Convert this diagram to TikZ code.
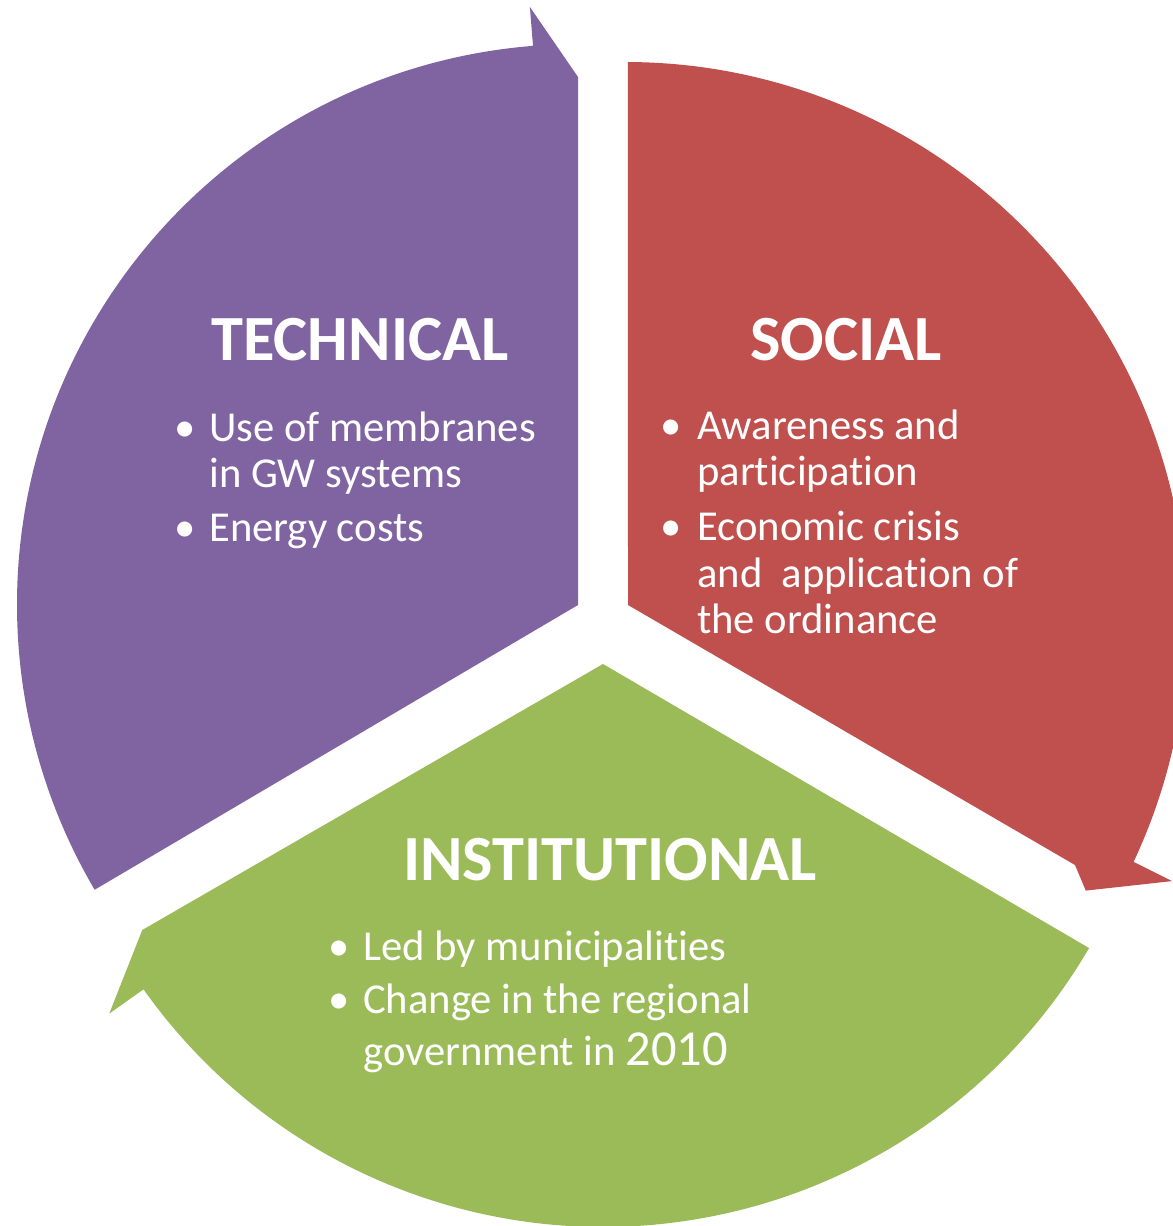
\documentclass[tikz,border=0pt]{standalone}
\usepackage{fontspec}
\setmainfont{Carlito}[Ligatures=NoCommon]
\usetikzlibrary{calc}
\definecolor{techpurple}{HTML}{8064A2}
\definecolor{socialred}{HTML}{C0504D}
\definecolor{instgreen}{HTML}{9BBB59}
\newcommand\headfont{\fontsize{55pt}{60pt}\selectfont\bfseries}
\newcommand\itemfont{\fontsize{36.4pt}{40pt}\selectfont}
\newcommand\bigyear{\fontsize{43pt}{46pt}\selectfont}
\begin{document}
\begin{tikzpicture}[x=0.3mm,y=0.3mm,
  head/.style={text=white, font=\headfont, inner sep=0pt, anchor=base},
  itemline/.style={text=white, font=\itemfont, inner sep=0pt, anchor=base west},
  bulletdot/.style={text=white, font=\itemfont, inner sep=0pt, anchor=base},
]
\clip (0,0) rectangle (1173,-1226);

% centres of the three exploded segments
\coordinate (pc) at (578,-605);
\coordinate (rc) at (626,-623);
\coordinate (ra) at (628,-605);
\coordinate (gc) at (603,-664);

% technical segment, arrow at its top end
\fill[techpurple] (pc) -- ($(pc)+(90:528)$) -- ($(pc)+(94.6:600)$) -- ($(pc)+(94.6:561)$)
  arc[start angle=94.6, end angle=210.5, radius=561] -- cycle;

% social segment, arrow at its lower end
\fill[socialred] (ra) -- ($(rc)+(89.8:561)$)
  arc[start angle=89.8, end angle=-25.2, radius=561]
  -- ($(rc)+(-25.3:604)$) -- ($(rc)+(-30.2:532)$) -- (1075,-865) -- cycle;

% institutional segment, arrow at its left end
\fill[instgreen] (gc) -- ($(gc)+(210:532)$) -- ($(gc)+(215.3:605)$) -- ($(gc)+(215.3:563)$)
  arc[start angle=215.3, end angle=329.7, radius=563] -- cycle;

% headings
\node[head] (techhead) at (360,-360) {TECHNICAL};
\node[head] (sochead) at (846,-360) {SOCIAL};
\node[head] (insthead) at (610,-880) {INSTITUTIONAL};

% technical items
\node[bulletdot] (tb1) at (185,-441) {•};
\node[itemline] (t1a) at (209,-441) {Use of membranes};
\node[itemline] (t1b) at (209,-487) {in GW systems};
\node[bulletdot] (tb2) at (185,-541) {•};
\node[itemline] (t2a) at (209,-541) {Energy costs};

% social items
\node[bulletdot] (sb1) at (671,-439) {•};
\node[itemline] (s1a) at (697,-439) {Awareness and};
\node[itemline] (s1b) at (697,-485) {participation};
\node[bulletdot] (sb2) at (671,-540) {•};
\node[itemline] (s2a) at (697,-540) {Economic crisis};
\node[itemline] (s2b) at (697,-587) {and\ \ application of};
\node[itemline] (s2c) at (697,-633) {the ordinance};

% institutional items
\node[bulletdot] (ib1) at (339,-960) {•};
\node[itemline] (i1a) at (363,-960) {Led by municipalities};
\node[bulletdot] (ib2) at (339,-1013) {•};
\node[itemline] (i2a) at (363,-1013) {Change in the regional};
\node[itemline] (i2b) at (363,-1065) {government in {\bigyear 2010}};
\end{tikzpicture}
\end{document}
